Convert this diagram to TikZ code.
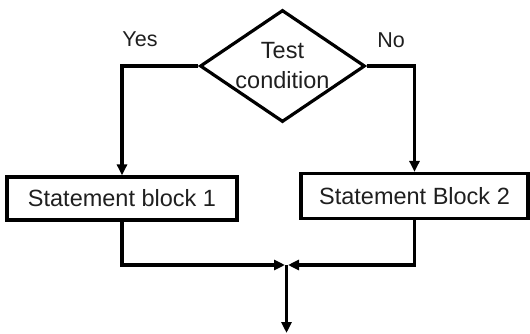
\documentclass[tikz,border=0pt]{standalone}
\usepackage{fontspec}
\setmainfont{Liberation Sans}
\usetikzlibrary{shapes.geometric,arrows.meta}
\begin{document}
\begin{tikzpicture}[x=1pt,y=-1pt,
  every node/.style={text=black!88},
  ln/.style={line width=3.2pt},
  arr/.style={ln,-{Triangle[length=11pt,width=10pt]}},
  blk/.style={draw,ln,rectangle,inner sep=0pt,font=\fontsize{23.5}{28}\selectfont},
  dec/.style={draw,ln,diamond,aspect=1.47,inner sep=0pt,minimum width=165pt,minimum height=112pt,align=center,font=\fontsize{23.5}{30}\selectfont},
  lbl/.style={font=\fontsize{21.5}{26}\selectfont,inner sep=0pt}]
\useasboundingbox (0,0) rectangle (530,334);
\node[dec] (d) at (282.5,66) {Test\\condition};
\node[blk,minimum width=230pt,minimum height=43pt] (b1) at (122,198.5) {Statement block 1};
\node[blk,minimum width=227pt,minimum height=45pt] (b2) at (414.5,196) {Statement Block 2};
\node[lbl] (yes) at (140,39) {Yes};
\node[lbl] (no) at (391,40) {No};
\coordinate (j) at (286.5,265);
\coordinate (e) at (286.5,333);
\draw[arr] (d.west) -| (b1.north);
\draw[arr] (d.east) -| (b2.north);
\draw[arr,shorten >=1.5pt] (b1.south) |- (j);
\draw[arr,shorten >=1.5pt] (b2.south) |- (j);
\draw[arr] (j) -- (e);
\end{tikzpicture}
\end{document}
